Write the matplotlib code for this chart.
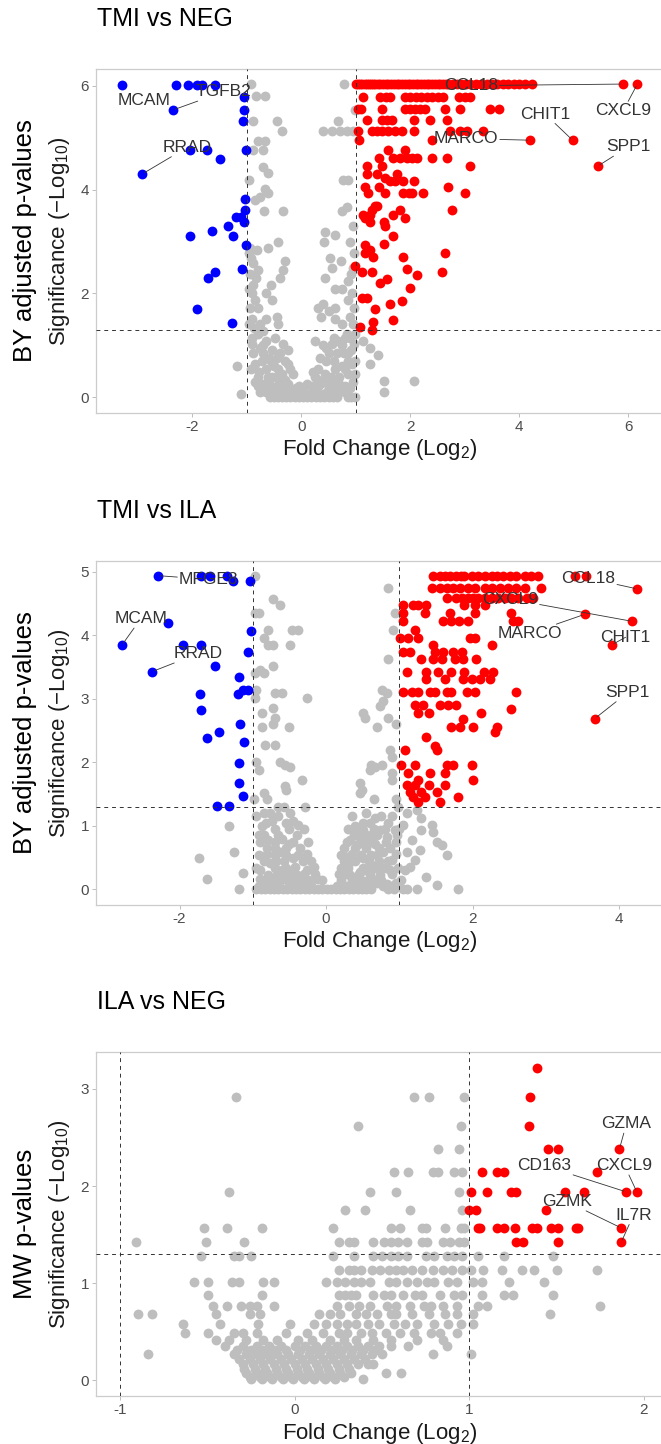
import numpy as np
import matplotlib
matplotlib.use("Agg")
import matplotlib.pyplot as plt

plt.rcParams["font.family"] = ["Liberation Sans", "DejaVu Sans"]
plt.rcParams["mathtext.fontset"] = "custom"
plt.rcParams["mathtext.rm"] = "Liberation Sans"
plt.rcParams["mathtext.it"] = "Liberation Sans:italic"
plt.rcParams["axes.unicode_minus"] = False

W, H = 661, 1444

# ---- data: rows of (significance, [fold changes]) ----

# TMI vs NEG
p1_grey = [
    (6.03, [-0.92, 0.79]), (5.80, [-0.83, -0.66]), (5.53, [0.98]),
    (5.32, [-0.88, -0.45, 0.68]), (5.13, [-0.36, 0.40, 0.56, 0.71, 0.84, 0.95]),
    (4.94, [-0.80, -0.66]), (4.76, [-0.88, -0.70]), (4.44, [-0.71]), (4.31, [-0.61]),
    (4.18, [-0.97, 0.77, 0.85]), (4.02, [-0.66]), (3.94, [-0.61]), (3.86, [-0.76]),
    (3.80, [-0.85]), (3.67, [0.83]), (3.59, [-0.68, -0.34, 0.74]), (3.30, [0.95]),
    (3.19, [0.43]), (3.12, [0.62]), (3.00, [-0.43, 0.42, 0.90]), (2.87, [-0.94, -0.62]),
    (2.83, [-0.82]), (2.78, [-0.97, 0.97]), (2.69, [-0.93, 0.53]), (2.63, [-0.30, 0.73]),
    (2.58, [-0.88]), (2.50, [0.56, 0.95]), (2.45, [-0.79, -0.33]), (2.38, [-0.95, 0.92]),
    (2.30, [-0.84, -0.39, 0.43]), (2.24, [0.86]), (2.16, [-0.56, -0.88]),
    (2.08, [0.62, 0.74, -0.97]), (2.00, [-0.91, -0.64, 0.93]), (1.88, [-0.54, 0.86, -0.85]),
    (1.80, [0.40]), (1.72, [0.31, 0.62, -0.95, -0.80, 0.97]), (1.67, [0.50]),
    (1.55, [-0.45, 0.37, 0.89]), (1.50, [-0.91, -0.64, 0.62]),
    (1.42, [-0.42, -0.76, 0.74, -0.97, 0.95]), (1.34, [-0.87]), (1.28, [-0.70]),
    (1.22, [-0.79, 0.83, 0.98]), (1.15, [-0.48, 0.80, -0.90, 0.60, 0.90]),
    (1.08, [-0.64, 0.25, 0.68, 1.14]), (1.03, [-0.33, 0.56, -0.90, 0.97]),
    (1.00, [-0.70, 0.40, 0.75]), (0.95, [0.46, -0.75, 1.26]),
    (0.91, [-0.54, -0.24, 0.92]), (0.85, [-0.70, 0.86, 0.65, -0.88, -0.40, 0.50, 0.78]),
    (0.82, [1.41]), (0.76, [-0.60, -0.45, 0.35]),
    (0.70, [-0.30, 0.98, 0.60, -0.72, -0.55, 0.45, 0.85]),
    (0.65, [-0.85, -0.24, 0.93, 1.26]), (0.61, [-1.18, -0.50, 0.75]),
    (0.55, [-0.64, -0.42, 0.62, -0.92, -0.20, 0.30, 0.80]), (0.49, [0.22, -0.78]),
    (0.45, [-0.35, -0.15, 0.43, 0.86, 0.99]),
    (0.40, [-0.54, -0.80, -0.62, -0.45, 0.25, 0.55, 0.70]), (0.34, [-0.30, 0.30]),
    (0.32, [1.51, 2.06]), (0.30, [-0.60, -0.40, 0.40, 0.62, 0.95]), (0.29, [-0.85, 0.55]),
    (0.25, [-0.70, -0.25, 0.10, 0.34, 0.70]),
    (0.21, [0.19, -0.45, 0.80, -0.80, -0.62, -0.30, -0.05, 0.30, 0.65]),
    (0.18, [0.50, -0.10, 0.90]), (0.14, [-0.55, -0.15, 0.60]),
    (0.11, [-0.64, -0.35, 1.51, 0.05, -0.75, -0.45, -0.25, 0.20, 0.48, 0.70, 0.80]),
    (0.07, [-1.10, -0.20, 0.25, 0.40]),
    (0.04, [-0.52, -0.38, -0.08, 0.15, 0.32, 0.46]),
    (0.00, [-0.58, -0.50, -0.42, -0.35, -0.28, -0.20, -0.12, -0.05, 0.03, 0.10, 0.18,
            0.26, 0.34, 0.42, 0.50, 0.58, 0.66, 0.86, 0.92, 0.99]),
]
p1_up = [
    (6.03, [1.00, 1.04, 1.08, 1.12, 1.16, 1.20, 1.24, 1.28, 1.32, 1.36, 1.40, 1.45, 1.50,
            1.55, 1.60, 1.65, 1.70, 1.75, 1.80, 1.85, 1.90, 1.95, 2.00, 2.05, 2.10, 2.15,
            2.20, 2.25, 2.30, 2.35, 2.40, 2.45, 2.50, 2.55, 2.60, 2.65, 2.70, 2.78, 2.86,
            2.94, 3.02, 3.10, 3.20, 3.30, 3.40, 3.50, 3.60, 3.70, 3.80, 3.90, 4.00, 4.10,
            4.23, 5.90, 6.17]),
    (5.79, [1.14, 1.45, 1.55, 1.63, 1.90, 2.00, 2.10, 2.20, 2.30, 2.40, 2.50, 2.60, 2.90, 3.00, 3.10]),
    (5.55, [1.04, 1.10, 1.48, 1.90, 1.99, 2.09, 2.18, 2.27, 2.64, 2.91, 3.46, 3.62]),
    (5.34, [1.20, 1.48, 1.57, 1.66, 2.06, 2.36, 2.67]),
    (5.13, [1.04, 1.30, 1.38, 1.48, 1.60, 1.72, 1.84, 2.06, 2.73, 2.91, 3.04, 3.34]),
    (4.95, [1.05, 2.39, 4.20, 4.98]), (4.76, [1.60, 1.90]),
    (4.60, [1.42, 1.69, 1.81, 1.94, 2.03, 2.12, 2.39, 2.67]),
    (4.45, [1.20, 1.48, 3.10, 5.44]), (4.30, [1.20, 1.38, 1.75]), (4.22, [1.54]),
    (4.17, [1.63, 1.72, 1.87, 2.06]), (4.05, [1.17, 1.42, 2.70]),
    (3.93, [1.23, 1.54, 1.87, 1.97, 2.03, 2.24, 3.01]), (3.68, [1.35, 1.38]),
    (3.60, [1.29, 1.81, 2.76]), (3.51, [1.14, 1.26, 1.69]), (3.45, [1.17, 1.90]),
    (3.38, [1.26, 1.51]), (3.29, [1.54]), (3.11, [1.69]), (2.96, [1.51]), (2.93, [1.17]),
    (2.84, [1.26]), (2.77, [1.17, 2.64]), (2.71, [1.32, 1.87]), (2.53, [0.99]),
    (2.47, [1.94]), (2.41, [1.12, 1.29, 2.58]), (2.35, [2.12]), (2.28, [1.57]),
    (2.21, [1.45]), (2.10, [1.99]), (1.92, [1.11, 1.20]), (1.86, [1.84]), (1.80, [1.63]),
    (1.70, [1.35]), (1.49, [1.69]), (1.46, [1.32]), (1.36, [1.08]), (1.30, [1.29]),
]
p1_down = [
    (6.02, [-3.29, -2.30, -2.09, -1.91, -1.83, -1.58]), (5.78, [-1.06]),
    (5.53, [-2.36, -1.05]), (5.32, [-1.07]), (4.76, [-2.05, -1.73, -1.01]),
    (4.59, [-1.50]), (4.30, [-2.92]), (3.81, [-1.03]), (3.60, [-1.03]),
    (3.47, [-1.20, -1.11]), (3.38, [-1.06]), (3.29, [-1.35]), (3.20, [-1.64]),
    (3.11, [-2.04, -1.25]), (2.93, [-1.02]), (2.48, [-1.09]), (2.41, [-1.59]),
    (2.29, [-1.72]), (1.70, [-1.92]), (1.44, [-1.27]),
]
p1_genes = [  # name, x, y, label x, label y, segment
    ("MCAM", -3.29, 6.02, -2.88, 5.72, False), ("TGFB2", -2.36, 5.53, -1.43, 5.88, True),
    ("RRAD", -2.92, 4.30, -2.10, 4.81, True), ("CCL18", 5.90, 6.03, 3.11, 6.00, True),
    ("CXCL9", 6.17, 6.03, 5.91, 5.52, True), ("CHIT1", 4.98, 4.95, 4.48, 5.45, True),
    ("MARCO", 4.20, 4.95, 3.02, 4.98, True), ("SPP1", 5.44, 4.45, 6.00, 4.82, True),
]

# TMI vs ILA
p2_grey = [
    (4.93, [-0.97]), (4.74, [0.85]), (4.57, [-0.72]), (4.48, [-0.63]),
    (4.35, [-0.97, -0.92, 0.94]), (4.08, [-0.79, -0.47, -0.38, 0.92]), (3.95, [-0.85]),
    (3.85, [-0.79, -0.72, -0.49]), (3.63, [0.85]), (3.52, [-0.72]), (3.46, [-0.90]),
    (3.40, [-0.97, -0.85]), (3.14, [-0.95, 0.76]), (3.09, [-0.70, -0.60, 0.83]),
    (3.02, [-0.97, -0.26]), (2.96, [0.78]), (2.88, [0.74]), (2.85, [-0.73]),
    (2.77, [-0.88, 0.51]), (2.70, [-0.70, 0.53, 0.85]), (2.61, [-0.72, 0.96]),
    (2.55, [-0.88, -0.51, 0.69]), (2.27, [-0.83, -0.70]), (2.19, [0.87]), (2.08, [0.90]),
    (2.00, [-0.95, -0.63]), (1.96, [-0.56, 0.62, 0.76]), (1.92, [-0.49, 0.67]),
    (1.88, [-0.92, 0.60]), (1.83, [0.90]), (1.72, [-0.33, 0.90]), (1.67, [0.46]),
    (1.62, [-0.56]), (1.56, [-0.54, 0.49]), (1.51, [-0.85, 0.46]),
    (1.43, [-0.81, -0.99, 0.65, 0.96]), (1.30, [-0.65, -0.58, -0.29, 0.98]), (1.25, [1.24]),
    (1.20, [-0.85, -0.76, -0.49, 0.55, 1.10]), (1.15, [0.35, 0.75, 0.90, -0.65, -0.95]),
    (1.12, [0.67, 1.30]), (1.07, [-0.74, -0.45]),
    (1.04, [0.50, 0.60, 0.85, -0.55, -0.82]),
    (1.02, [-0.38, 1.44, 1.05]), (1.00, [-0.88, -1.32, 0.40]),
    (0.95, [0.30, 0.42, 0.65, 0.80, 1.00, -0.70, -0.50, -0.30]),
    (0.93, [0.74, 0.94, 1.30, 0.51]), (0.91, [1.46]), (0.86, [0.62]),
    (0.85, [-0.92, 0.45, 0.97, 0.38, 0.55, 0.70, -0.85, -0.65, -0.40]),
    (0.83, [0.83]), (0.80, [-0.60]),
    (0.78, [-0.79, 0.33, 1.17]), (0.75, [1.51, 0.28, 0.50, 0.62, 0.82, 0.95, -0.90, -0.70, -0.45, -0.25]),
    (0.72, [-0.51, 0.44, 0.67]),
    (0.70, [1.58]), (0.65, [-0.35, 0.55, -0.70, 0.88, 0.25, 0.40, 0.72, -0.80, -0.55]),
    (0.62, [1.28]),
    (0.59, [-0.63, 0.78, -1.26, 1.10]), (0.56, [-0.26]), (0.55, [-0.80, 0.35, 0.95]),
    (0.54, [-0.54, 1.65, 0.20, 0.48, 0.62, 0.70, -0.92, -0.70, -0.38]),
    (0.51, [0.28]), (0.50, [-1.74]), (0.49, [-0.45, 0.51]),
    (0.46, [0.90, 1.21]), (0.44, [-0.58, 0.40, 0.25, 0.35, 0.58, 0.72, 0.85, -0.85, -0.68, -0.32, -0.20]),
    (0.41, [-0.76]), (0.38, [0.62]),
    (0.36, [-0.42, -0.17, 1.15]),
    (0.34, [0.20, 0.30, 0.50, 0.68, 0.82, 0.98, -0.95, -0.70, -0.55]),
    (0.33, [0.76]), (0.30, [-0.26, 1.08, -0.90, -0.60, 0.52, 0.88]),
    (0.28, [0.46]), (0.26, [-1.13]), (0.23, [-0.67, -0.40, -0.79, 0.33, 0.74]),
    (0.24, [0.18, 0.28, 0.45, 0.60, 0.90, -0.60, -0.48, -0.30, -0.15]),
    (0.20, [1.37]), (0.17, [-0.54, -0.13, -0.90, 0.58]), (0.16, [-1.63]),
    (0.15, [-0.24, 1.02, 0.20, 0.35, 0.48, 0.66, 0.75, -0.75, -0.62, -0.38, -0.05]),
    (0.10, [-0.85, -0.70, -0.45, -0.30, 0.40, 0.55, 0.70, 0.95]),
    (0.09, [0.83]), (0.07, [1.51]),
    (0.05, [-0.92, -0.80, -0.65, -0.50, -0.40, -0.20, 0.15, 0.28, 0.45, 0.60, 0.78, 0.90]),
    (0.00, [-1.19, -0.95, -0.89, -0.83, -0.77, -0.71, -0.65, -0.59, -0.53, -0.47, -0.41,
            -0.35, -0.29, -0.23, -0.17, -0.11, -0.05, 0.01, 0.07, 0.13, 0.19, 0.25, 0.31,
            0.37, 0.43, 0.49, 0.55, 0.61, 0.85, 0.93, 1.05, 1.10, 1.24, 1.80]),
]
p2_up = [
    (4.93, [1.46, 1.55, 1.62, 1.69, 1.78, 1.84, 1.89, 1.99, 2.08, 2.17, 2.26, 2.33, 2.42,
            2.51, 2.60, 2.71, 2.80, 2.89, 3.40, 3.55]),
    (4.75, [1.44, 1.55, 1.65, 1.74, 1.83, 1.94, 2.03, 2.17, 2.26, 2.37, 2.49, 2.60, 2.71, 2.94]),
    (4.73, [4.25]),
    (4.58, [1.65, 1.78, 1.85, 1.94, 2.01, 2.08, 2.17, 2.26, 2.35, 2.44, 2.53, 2.62, 2.74, 2.83]),
    (4.48, [1.05, 1.19, 1.26, 1.37, 1.89, 2.03, 2.17]), (4.35, [1.05, 1.35, 1.69, 2.03, 2.53]),
    (4.33, [3.53]), (4.22, [1.05, 1.60, 1.71, 1.82, 1.94, 2.55, 2.62, 4.18]), (4.08, [1.21]),
    (3.95, [1.01, 1.12, 1.26, 1.96, 2.03]), (3.85, [1.46, 2.26, 3.90]),
    (3.74, [1.05, 1.14, 1.49, 1.60, 1.74, 1.85]), (3.62, [1.30, 1.46, 1.58, 1.76, 1.87, 2.05]),
    (3.43, [1.10, 1.37, 1.53, 1.71, 1.89, 2.16, 2.28]), (3.32, [1.37, 1.62, 1.87, 1.99, 2.10, 2.24]),
    (3.10, [1.05, 1.17, 1.26, 1.42, 1.49, 1.65, 1.71, 1.92, 2.03, 2.60]),
    (2.90, [1.21, 1.33, 1.55, 1.67, 1.78]), (2.84, [2.53]), (2.77, [1.26, 1.40, 2.12]),
    (2.69, [1.87, 3.67]), (2.56, [1.71, 1.83, 2.01, 2.33]), (2.47, [2.30]), (2.40, [1.37]),
    (2.25, [1.49]), (2.19, [1.08, 1.51]), (1.96, [1.03, 1.21, 1.65, 1.74, 1.99]),
    (1.83, [1.12, 1.42, 1.62]), (1.72, [1.26, 2.01]), (1.64, [1.10, 1.21, 1.40, 1.62]),
    (1.54, [1.14, 1.30, 1.51]), (1.46, [1.19, 1.35, 1.80]), (1.38, [1.26, 1.55]),
]
p2_down = [
    (4.94, [-2.30, -1.70, -1.58, -1.35]), (4.85, [-1.27, -1.04]), (4.20, [-2.16]),
    (4.07, [-1.03]), (3.84, [-2.79, -1.95, -1.70]), (3.74, [-1.07]), (3.52, [-1.52]),
    (3.43, [-2.37]), (3.34, [-1.19]), (3.14, [-1.14, -1.07]), (3.08, [-1.20, -1.72]),
    (2.83, [-1.71]), (2.61, [-1.17]), (2.47, [-1.46]), (2.39, [-1.62]), (2.32, [-1.12]),
    (1.99, [-1.19]), (1.67, [-1.19]), (1.47, [-1.13]), (1.32, [-1.49, -1.33]),
]
p2_genes = [
    ("MFGE8", -2.30, 4.94, -1.60, 4.88, True), ("MCAM", -2.79, 3.84, -2.53, 4.26, True),
    ("RRAD", -2.37, 3.43, -1.75, 3.71, True), ("CCL18", 4.25, 4.73, 3.58, 4.90, True),
    ("CXCL9", 4.18, 4.22, 2.51, 4.57, True), ("MARCO", 3.53, 4.33, 2.78, 4.03, True),
    ("CHIT1", 3.90, 3.85, 4.09, 3.97, True), ("SPP1", 3.67, 2.69, 4.12, 3.10, True),
]

# ILA vs NEG
p3_grey = [
    (2.92, [-0.34, 0.68, 0.77, 0.97]), (2.62, [0.36, 0.95]), (2.38, [0.82, 0.94]),
    (2.14, [0.57, 0.65, 0.79, 0.82, 0.91, 0.96]), (1.94, [-0.38, 0.43, 0.58, 0.94]),
    (1.75, [0.29, 0.40, 0.66, 0.96]),
    (1.57, [-0.52, -0.39, -0.19, 0.22, 0.55, 0.60, 0.73, 0.75, 0.86, 0.95, 0.97]),
    (1.42, [-0.91, -0.51, -0.29, 0.25, 0.31, 0.34, 0.45, 0.51, 0.55, 0.59, 0.64, 0.73,
            0.76, 0.85, 0.89, 0.94, 0.97]),
    (1.28, [-0.54, -0.35, -0.32, -0.25, 0.22, 0.34, 0.45, 0.50, 0.55, 0.59, 0.64, 0.75,
            0.80, 0.87, 0.91, 0.96, 1.05, 1.20, 1.48]),
    (1.14, [0.25, 0.31, 0.34, 0.38, 0.44, 0.49, 0.54, 0.58, 0.62, 0.67, 0.73, 0.79, 0.85,
            0.90, 0.96, 1.01, 1.08, 1.19, 1.30, 1.37, 1.50, 1.73]),
    (1.01, [-0.58, -0.50, -0.36, -0.32, -0.18, -0.12, 0.18, 0.24, 0.29, 0.34, 0.38, 0.43,
            0.54, 0.58, 0.64, 0.70, 0.76, 0.80, 0.88, 0.93, 1.02, 1.07, 1.23, 1.43]),
    (0.88, [-0.50, -0.19, 0.25, 0.29, 0.32, 0.35, 0.45, 0.51, 0.55, 0.62, 0.69, 0.73, 0.83,
            0.91, 0.96, 1.07, 1.20, 1.25, 1.48]),
    (0.77, [-0.47, -0.39, -0.31, -0.26, -0.22, -0.12, 0.24, 0.31, 0.37, 0.43, 0.53, 0.58,
            0.66, 0.74, 0.78, 0.85, 0.93, 1.05, 1.10, 1.75]),
    (0.68, [-0.90, -0.82, -0.45, -0.26, -0.20, 0.14, 0.20, 0.26, 0.35, 0.41, 0.47, 0.55,
            0.58, 0.67, 0.77, 0.86, 0.93, 1.02, 1.46]),
    (0.58, [-0.64, -0.43, -0.21, -0.03, 0.11, 0.18, 0.24, 0.30, 0.35, 0.42, 0.48, 0.57,
            0.63, 0.70, 0.80, 0.88, 0.95, 1.02]),
    (0.49, [-0.63, -0.50, -0.35, -0.30, -0.22, -0.05, 0.07, 0.16, 0.25, 0.30, 0.38, 0.44,
            0.52, 0.60, 0.68, 0.78, 0.83, 0.93]),
    (0.42, [-0.45, -0.38, -0.28, -0.18, -0.10, 0.02, 0.10, 0.20, 0.28, 0.35, 0.45, 0.55, 0.70, 0.85]),
    (0.35, [-0.40, -0.30, -0.22, -0.15, -0.08, 0.00, 0.06, 0.12, 0.18, 0.24, 0.30, 0.36,
            0.42, 0.48, 0.55, 0.65, 0.87]),
    (0.31, [-0.33, -0.25, -0.19, -0.12, -0.05, 0.03, 0.09, 0.15, 0.21, 0.27, 0.33, 0.39, 0.46]),
    (0.27, [-0.84, -0.35, -0.28, -0.22, -0.16, -0.10, -0.04, 0.02, 0.08, 0.14, 0.20, 0.26,
            0.32, 0.38, 0.44, 0.50, 0.79, 1.01]),
    (0.22, [-0.32, -0.26, -0.20, -0.14, -0.08, -0.02, 0.04, 0.10, 0.16, 0.22, 0.28, 0.34, 0.40]),
    (0.17, [-0.30, -0.24, -0.18, -0.12, -0.06, 0.00, 0.06, 0.12, 0.18, 0.24, 0.30, 0.36, 0.42, 0.45]),
    (0.12, [-0.29, -0.23, -0.17, -0.11, -0.05, 0.01, 0.07, 0.13, 0.19, 0.25, 0.31]),
    (0.08, [-0.28, -0.22, -0.16, -0.10, -0.04, 0.02, 0.08, 0.14, 0.20, 0.26, 0.32, 0.52, 0.61]),
    (0.04, [-0.26, -0.20, -0.14, -0.08, -0.02, 0.04, 0.10, 0.16, 0.22, 0.28]),
    (0.01, [-0.25, -0.19, -0.13, -0.07, -0.01, 0.05, 0.11, 0.17, 0.23, 0.39]),
]
p3_up = [
    (3.22, [1.39]), (2.92, [1.35]), (2.62, [1.34]), (2.38, [1.45, 1.51, 1.86]),
    (2.14, [1.07, 1.16, 1.20, 1.73]),
    (1.94, [1.01, 1.10, 1.24, 1.27, 1.55, 1.66, 1.90, 1.96]),
    (1.75, [1.00, 1.04, 1.44]),
    (1.57, [1.05, 1.06, 1.16, 1.20, 1.26, 1.36, 1.39, 1.47, 1.51, 1.61, 1.62, 1.87]),
    (1.42, [1.27, 1.31, 1.51, 1.87]),
]
p3_down = []
p3_genes = [
    ("GZMA", 1.86, 2.38, 1.90, 2.64, True), ("CD163", 1.90, 1.94, 1.43, 2.21, True),
    ("CXCL9", 1.96, 1.94, 1.89, 2.21, True), ("GZMK", 1.87, 1.57, 1.56, 1.84, True),
    ("IL7R", 1.87, 1.42, 1.94, 1.70, True),
]


def expand(rows):
    xs, ys = [], []
    for y, row in rows:
        xs += row
        ys += [y] * len(row)
    return xs, ys


fig = plt.figure(figsize=(W / 100, H / 100), dpi=100)


def draw_panel(box, title, outer, xlim, ylim, xticks, yticks, vlines, grey, up, down, genes):
    l, t, r, b = box
    ax = fig.add_axes([l / W, 1 - b / H, (r - l) / W, (b - t) / H])
    for rows, col in ((grey, "#bebebe"), (up, "#ff0000"), (down, "#0000ff")):
        if rows:
            x, y = expand(rows)
            ax.scatter(x, y, s=50, c=col, linewidths=0, zorder=2)
    for v in vlines:
        ax.axvline(v, color="#333333", lw=0.7, ls=(0, (4, 4)), zorder=3)
    ax.axhline(-np.log10(0.05), color="#333333", lw=0.7, ls=(0, (4, 4)), zorder=3)
    for name, gx, gy, tx, ty, seg in genes:
        ax.annotate(name, (gx, gy), xytext=(tx, ty), ha="center", va="center",
                    fontsize=12.5, color="#333333", zorder=5,
                    bbox=dict(boxstyle="square,pad=0.1", fc="none", ec="none"),
                    arrowprops=dict(arrowstyle="-", color="#333333", lw=0.6,
                                    shrinkA=0, shrinkB=2) if seg else None)
    ax.set_xlim(xlim)
    ax.set_ylim(ylim)
    ax.set_xticks(xticks)
    ax.set_yticks(yticks)
    ax.tick_params(length=3, width=0.6, color="#b3b3b3", labelsize=11,
                   labelcolor="#4d4d4d", pad=2)
    for sp in ax.spines.values():
        sp.set_color("#cccccc")
        sp.set_linewidth(0.9)
    cy = 1 - (t + b) / 2 / H
    fig.text(97 / W, 1 - (t - 50) / H, title, fontsize=18, ha="left", va="center")
    fig.text(25 / W, cy, outer, fontsize=18.5, rotation=90, ha="center", va="center")
    fig.text(60 / W, cy, "Significance (\u2212Log$_{10}$)", fontsize=16, rotation=90,
             ha="center", va="center", color="#1a1a1a")
    fig.text((l + r) / 2 / W, 1 - (b + 37) / H, "Fold Change (Log$_{2}$)", fontsize=16,
             ha="center", va="center", color="#1a1a1a")
    return ax


draw_panel((96, 69, 663, 413), "TMI vs NEG", "BY adjusted p-values",
           (-3.77, 6.64), (-0.30, 6.32), [-2, 0, 2, 4, 6], [0, 2, 4, 6], [-1, 1],
           p1_grey, p1_up, p1_down, p1_genes)
draw_panel((96, 561, 663, 905), "TMI vs ILA", "BY adjusted p-values",
           (-3.14, 4.60), (-0.246, 5.17), [-2, 0, 2, 4], [0, 1, 2, 3, 4, 5], [-1, 1],
           p2_grey, p2_up, p2_down, p2_genes)
draw_panel((96, 1052, 663, 1396), "ILA vs NEG", "MW p-values",
           (-1.14, 2.11), (-0.16, 3.38), [-1, 0, 1, 2], [0, 1, 2, 3], [-1, 1],
           p3_grey, p3_up, p3_down, p3_genes)

fig.savefig("out.png", dpi=100)
